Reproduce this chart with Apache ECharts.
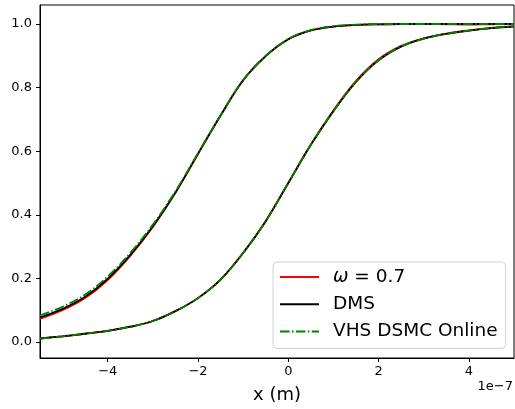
<!DOCTYPE html>
<html>
<head>
<meta charset="utf-8">
<script src="https://cdn.jsdelivr.net/npm/echarts@6/dist/echarts.min.js"></script>
<style>html,body{margin:0;padding:0;background:#fff}#c{width:515px;height:409px}</style>
</head>
<body>
<div id="c"></div>
<script>
// x positions in units of 1e-7 m
const xs = [-5.5,-5,-4.5,-4,-3.5,-3,-2.5,-2,-1.5,-1,-0.5,0,0.5,1,1.5,2,2.5,3,3.5,4,4.5,5];
// left profile
const leftDMS   = [0.077,0.104,0.142,0.199,0.274,0.364,0.470,0.592,0.712,0.823,0.899,0.952,0.980,0.992,0.997,0.999,1.0,1.0,1.0,1.0,1.0,1.0];
const leftOmega = [0.073,0.100,0.138,0.195,0.271,0.362,0.469,0.591,0.712,0.823,0.899,0.952,0.980,0.992,0.997,0.999,1.0,1.0,0.999,0.998,0.999,1.0];
const leftVHS   = [0.084,0.111,0.149,0.206,0.280,0.369,0.474,0.594,0.713,0.824,0.900,0.953,0.981,0.993,0.998,1.0,1.0,1.0,1.0,1.0,1.0,1.0];
// right profile
const rightDMS   = [0.011,0.018,0.026,0.035,0.048,0.066,0.097,0.138,0.196,0.280,0.380,0.500,0.620,0.726,0.818,0.886,0.929,0.954,0.969,0.979,0.987,0.992];
const rightOmega = [0.011,0.018,0.026,0.035,0.048,0.066,0.097,0.138,0.196,0.280,0.380,0.500,0.621,0.728,0.821,0.889,0.931,0.955,0.970,0.980,0.988,0.993];
const rightVHS   = [0.011,0.018,0.026,0.035,0.048,0.066,0.097,0.138,0.196,0.280,0.380,0.500,0.620,0.726,0.818,0.886,0.929,0.954,0.969,0.979,0.987,0.992];
const xTicks = [-4,-2,0,2,4];
const yTicks = [0,0.2,0.4,0.6,0.8,1.0];
const names = ['ω = 0.7','DMS','VHS DSMC Online'];

const pair = (ys) => xs.map((x,i)=>[x, ys[i]]);
const FONT = 'DejaVu Sans';
const RED = '#ff0000', BLK = '#000000', GRN = '#008000';
const LW = 1.8;
const dashDot = [9.6, 2.4, 1.5, 2.4];

function mk(name, data, color, type, z){
  return {
    type:'line', name, data: pair(data), symbol:'none', showSymbol:false, smooth:0.35,
    lineStyle:{color, width:LW, type}, itemStyle:{color}, z, silent:true
  };
}

const chart = echarts.init(document.getElementById('c'), null, {renderer:'canvas'});
chart.setOption({
  animation:false,
  backgroundColor:'#ffffff',
  textStyle:{fontFamily:FONT, color:'#000'},
  grid:{left:40, right:1, top:5, bottom:51, show:true, borderColor:'#000', borderWidth:1, backgroundColor:'transparent'},
  xAxis:{
    type:'value', min:-5.5, max:5,
    name:'x (m)', nameLocation:'middle', nameGap:28,
    nameTextStyle:{fontFamily:FONT, fontSize:18, color:'#000'},
    axisLine:{show:true, onZero:false, lineStyle:{color:'#000', width:1}},
    axisTick:{show:true, inside:false, length:4, customValues:xTicks, lineStyle:{color:'#000'}},
    axisLabel:{customValues:xTicks, margin:7, fontFamily:FONT, fontSize:13, color:'#000',
      formatter:(v)=> v<0 ? '\u2212'+Math.abs(v) : String(v)},
    splitLine:{show:false}
  },
  yAxis:{
    type:'value', min:-0.0503, max:1.0597,
    axisLine:{show:true, onZero:false, lineStyle:{color:'#000', width:1}},
    axisTick:{show:true, inside:false, length:4, customValues:yTicks, lineStyle:{color:'#000'}},
    axisLabel:{customValues:yTicks, margin:8, fontFamily:FONT, fontSize:13, color:'#000',
      formatter:(v)=> v.toFixed(1)},
    splitLine:{show:false}
  },
  legend:{
    data:names, orient:'vertical', left:273, top:262,
    padding:[5,8,7,6], itemWidth:39, itemHeight:14, itemGap:7.2,
    backgroundColor:'#ffffff', borderColor:'#d0d0d0', borderWidth:1, borderRadius:4,
    itemStyle:{opacity:0},
    textStyle:{fontFamily:FONT, fontSize:18.5, color:'#000', lineHeight:20, padding:[0,0,0,9],
      rich:{i:{fontFamily:FONT, fontStyle:'italic', fontSize:18.5, color:'#000'}, n:{fontFamily:FONT, fontSize:18.5, color:'#000'}}},
    formatter:(n)=> n==='ω = 0.7' ? '{i|ω}{n| = 0.7}' : n
  },
  graphic:[{type:'text', right:2, top:380, style:{text:'1e\u22127', fontFamily:FONT, fontSize:13, fill:'#000'}}],
  series:[
    mk(names[0], leftOmega, RED, 'solid', 2),
    mk(names[0], rightOmega, RED, 'solid', 2),
    mk(names[1], leftDMS, BLK, 'solid', 3),
    mk(names[1], rightDMS, BLK, 'solid', 3),
    mk(names[2], leftVHS, GRN, dashDot, 4),
    mk(names[2], rightVHS, GRN, dashDot, 4)
  ]
});
</script>
</body>
</html>
